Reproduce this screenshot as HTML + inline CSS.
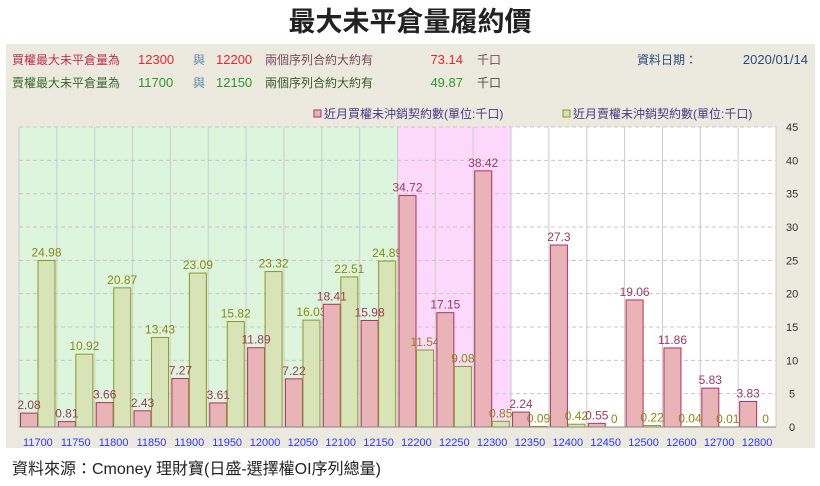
<!DOCTYPE html>
<html><head><meta charset="utf-8"><style>
body{margin:0;width:820px;height:481px;background:#fff;overflow:hidden;font-family:"Liberation Sans","Noto Sans CJK TC",sans-serif;}
</style></head><body>
<svg id="c" width="820" height="481" xmlns="http://www.w3.org/2000/svg" font-family="Liberation Sans, Noto Sans CJK TC, sans-serif">
<text x="410" y="31" text-anchor="middle" font-size="27" font-weight="bold" fill="#222">最大未平倉量履約價</text>
<rect x="6" y="44" width="809" height="404" fill="#ece9df"/>
<g font-size="12">
<text x="12" y="64" fill="#c0304a">買權最大未平倉量為</text>
<text x="138" y="64" fill="#e8262e" font-size="13">12300</text>
<text x="193" y="64" fill="#5a8ab0">與</text>
<text x="216" y="64" fill="#e8262e" font-size="13">12200</text>
<text x="265" y="64" fill="#7a4a5a">兩個序列合約大約有</text>
<text x="463" y="64" fill="#e8262e" font-size="13" text-anchor="end">73.14</text>
<text x="477" y="64" fill="#7a4a5a">千口</text>
<text x="637" y="64" fill="#2a4a7a">資料日期：</text>
<text x="808" y="64" fill="#2a4a7a" font-size="13" text-anchor="end">2020/01/14</text>
<text x="12" y="87" fill="#3a6a2a">賣權最大未平倉量為</text>
<text x="138" y="87" fill="#2a9a2a" font-size="13">11700</text>
<text x="193" y="87" fill="#5a8ab0">與</text>
<text x="216" y="87" fill="#2a9a2a" font-size="13">12150</text>
<text x="265" y="87" fill="#3a5a2a">兩個序列合約大約有</text>
<text x="463" y="87" fill="#2a9a2a" font-size="13" text-anchor="end">49.87</text>
<text x="477" y="87" fill="#3a5a2a">千口</text>
</g>
<g font-size="12" fill="#4a3a8a">
<rect x="314" y="110" width="7" height="7" fill="#e8b4b8" stroke="#b03060"/>
<text x="324" y="118">近月買權未沖銷契約數(單位:千口)</text>
<rect x="563" y="110" width="7" height="7" fill="#d8e4b8" stroke="#8a9a20"/>
<text x="573" y="118">近月賣權未沖銷契約數(單位:千口)</text>
</g>
<g id="plot"></g>
<text x="12" y="474" font-size="16" fill="#222">資料來源：Cmoney 理財寶(日盛-選擇權OI序列總量)</text>
</svg>
<script>
const categories=["11700","11750","11800","11850","11900","11950","12000","12050","12100","12150","12200","12250","12300","12350","12400","12450","12500","12600","12700","12800"];
const callValues=[2.08,0.81,3.66,2.43,7.27,3.61,11.89,7.22,18.41,15.98,34.72,17.15,38.42,2.24,27.3,0.55,19.06,11.86,5.83,3.83];
const putValues=[24.98,10.92,20.87,13.43,23.09,15.82,23.32,16.03,22.51,24.89,11.54,9.08,0.85,0.09,0.42,0,0.22,0.04,0.01,0];
const yTicks=[0,5,10,15,20,25,30,35,40,45];
const NS="http://www.w3.org/2000/svg";
const L=19,R=776,T=127,B=427,YMAX=45;
const cw=(R-L)/categories.length;
const xs=i=>L+i*cw;
const ys=v=>B-v/YMAX*(B-T);
const g=document.getElementById('plot');
function mk(t,a){const e=document.createElementNS(NS,t);for(const k in a)e.setAttribute(k,a[k]);g.appendChild(e);return e;}
const bg=mk('rect',{x:L,y:T,width:R-L,height:B-T,fill:'#fff'});


categories.forEach((c,i)=>{
  let fill=i<10?'#dcf5dc':(i<13?'#fcd8fc':'#fff');
  const r=mk('rect',{x:xs(i),y:T,width:cw,height:B-T,fill:fill});
  
  
});
categories.forEach((c,i)=>{mk('line',{x1:xs(i),x2:xs(i),y1:T,y2:B,stroke:'#ccc','stroke-width':1});});
mk('line',{x1:R,x2:R,y1:T,y2:B,stroke:'#ccc'});
yTicks.forEach(v=>{
  mk('line',{x1:L,x2:R,y1:ys(v),y2:ys(v),stroke:'#c8c8c8','stroke-dasharray':'4,3'});
  const t=mk('text',{x:v>=10?786:789,y:ys(v)+4,'font-size':11,fill:'#333'});t.textContent=v;
  
  
});
categories.forEach((c,i)=>{
  const bw=17;
  const x1=xs(i)+1.5,x2=xs(i)+19;
  const cb=mk('rect',{x:x1,y:ys(callValues[i]),width:bw,height:B-ys(callValues[i]),fill:'#e8b4b8',stroke:'#b03060','stroke-width':1});
  
  
  const pb=mk('rect',{x:x2,y:ys(putValues[i]),width:bw,height:B-ys(putValues[i]),fill:'#d8e4b8',stroke:'#8a9a20','stroke-width':1});
  
  
  const t1=mk('text',{x:x1+bw/2,y:ys(callValues[i])-4,'font-size':12,fill:'#a03a60','text-anchor':'middle'});t1.textContent=callValues[i];
  
  
  const t2=mk('text',{x:x2+bw/2,y:ys(putValues[i])-4,'font-size':12,fill:'#8a8a10','text-anchor':'middle'});t2.textContent=putValues[i];
  
  
  const xl=mk('text',{x:xs(i)+cw/2,y:446,'font-size':11,fill:'#2a3aff','text-anchor':'middle'});xl.textContent=c;
  
  
});
mk('line',{x1:L,x2:R,y1:B,y2:B,stroke:'#888'});
</script>
</body></html>
